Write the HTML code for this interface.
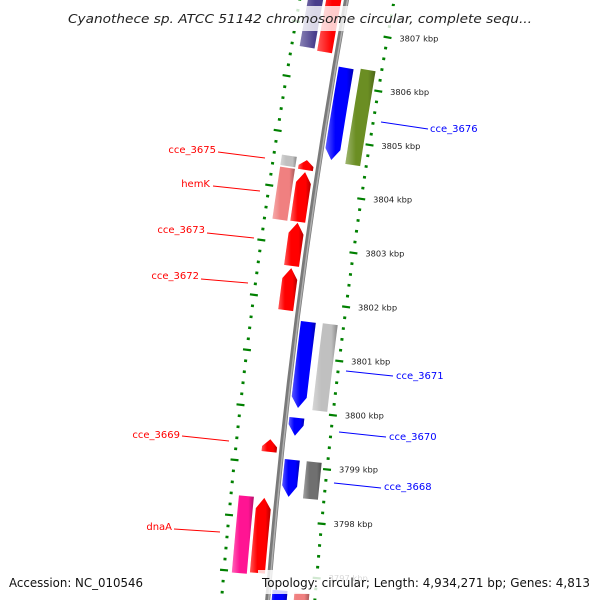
<!DOCTYPE html>
<html><head><meta charset="utf-8"><style>
html,body{margin:0;padding:0;background:#fff;width:600px;height:600px;overflow:hidden;}
svg{display:block;overflow:hidden;}
text{font-family:"DejaVu Sans","Liberation Sans",sans-serif;}
</style></head><body>
<svg id="chart" width="600" height="600" viewBox="0 0 600 600" xmlns="http://www.w3.org/2000/svg">
<defs>
<linearGradient id="shade" x1="0" y1="0" x2="1" y2="0">
<stop offset="0" stop-color="#fff" stop-opacity="0.35"/>
<stop offset="0.35" stop-color="#fff" stop-opacity="0"/>
<stop offset="0.75" stop-color="#000" stop-opacity="0"/>
<stop offset="1" stop-color="#000" stop-opacity="0.3"/>
</linearGradient>
</defs>
<g id="ticks"></g>
<g id="backbone"></g>
<g id="features"></g>
<g id="labels"></g>
<rect x="60" y="6" width="480" height="25" fill="#fff" fill-opacity="0.8"/>
<text x="68" y="23" font-size="12" font-style="italic" fill="#222" textLength="464" lengthAdjust="spacingAndGlyphs">Cyanothece sp. ATCC 51142 chromosome circular, complete sequ...</text>
<rect x="258" y="570" width="342" height="24" fill="#fff" fill-opacity="0.82"/>
<text x="9" y="587" font-size="12" fill="#111" textLength="134" lengthAdjust="spacingAndGlyphs">Accession: NC_010546</text>
<text x="262" y="587" font-size="12" fill="#111" textLength="328" lengthAdjust="spacingAndGlyphs">Topology: circular; Length: 4,934,271 bp; Genes: 4,813</text>
</svg>
<script>
// data
var featStart = [3809.5, 3809.5, 3806.32, 3806.35, 3804.58, 3804.55, 3804.36, 3804.33, 3803.40, 3802.57, 3801.64, 3801.65, 3799.88, 3799.44, 3799.11, 3799.11, 3798.37, 3798.37, 3796.72, 3796.70];
var featEnd   = [3806.57, 3806.54, 3804.62, 3804.59, 3804.39, 3804.37, 3803.41, 3803.42, 3802.61, 3801.80, 3800.06, 3800.05, 3799.55, 3799.21, 3798.43, 3798.43, 3796.97, 3797.00, 3795.5, 3795.5];
var featTrack = [2, 1, 0, 3, 2, 1, 2, 1, 1, 1, 0, 3, 0, 1, 0, 3, 2, 1, 0, 3];
var featArrow = ["none","up","down","none","none","up","none","up","up","up","down","none","down","up","down","none","none","up","down","none"];
var featColor = ["#483d8b","#ff0000","#0000ff","#6b8e23","#c0c0c0","#ff0000","#f08080","#ff0000","#ff0000","#ff0000","#0000ff","#c0c0c0","#0000ff","#ff0000","#0000ff","#707070","#ff1493","#ff0000","#0000ff","#f08080"];
var tickKbp = [3797, 3798, 3799, 3800, 3801, 3802, 3803, 3804, 3805, 3806, 3807, 3808];
var tickLabels = ["3797 kbp","3798 kbp","3799 kbp","3800 kbp","3801 kbp","3802 kbp","3803 kbp","3804 kbp","3805 kbp","3806 kbp","3807 kbp","3808 kbp"];
var geneNames = ["cce_3675","hemK","cce_3673","cce_3672","cce_3669","dnaA","cce_3676","cce_3671","cce_3670","cce_3668"];
var geneSide = ["left","left","left","left","left","left","right","right","right","right"];

// geometry (circular map fragment)
var CX = 6447, CY = 1106;
function ang(k){ return (5.43 + (k - 3798) * 0.508) * Math.PI / 180; }
function pt(k, r){ var a = ang(k); return [CX - r*Math.cos(a), CY - r*Math.sin(a)]; }
var trackR = [[6181,6196],[6205,6220],[6223,6238],[6159,6174]];
var NS = "http://www.w3.org/2000/svg";
function mk(tag, attrs, parent){ var e = document.createElementNS(NS, tag); for (var a in attrs) e.setAttribute(a, attrs[a]); parent.appendChild(e); return e; }

// ruler ticks
var tg = document.getElementById('ticks');
var rulers = [6153, 6246];
for (var ri = 0; ri < rulers.length; ri++) {
  var r = rulers[ri];
  for (var s = 37950; s <= 38100; s += 2) {
    var k = s / 10;
    var major = (s % 10 === 0);
    var half = major ? 4 : 1.5;
    var p1 = pt(k, r - half), p2 = pt(k, r + half);
    var ln = mk('line', {x1:p1[0], y1:p1[1], x2:p2[0], y2:p2[1], stroke:'#008000', 'stroke-width': major ? 2.2 : 2.6}, tg);
    
    
  }
}
for (var i = 0; i < tickKbp.length; i++) {
  var p = pt(tickKbp[i], 6141);
  var t = mk('text', {x:p[0], y:p[1] + 2, 'font-size':8.3, fill:'#222'}, tg);
  t.textContent = tickLabels[i];
  
  
}

// backbone
var bg = document.getElementById('backbone');
var b1 = pt(3810, 6200), b2 = pt(3795, 6200);
var bb = mk('path', {d:'M'+b1[0]+','+b1[1]+' A6200,6200 0 0 0 '+b2[0]+','+b2[1], fill:'none', stroke:'#7a7a7a', 'stroke-width':5}, bg);


var b3 = pt(3810, 6199), b4 = pt(3795, 6199);
var bh = mk('path', {d:'M'+b3[0]+','+b3[1]+' A6199,6199 0 0 0 '+b4[0]+','+b4[1], fill:'none', stroke:'#b0b0b0', 'stroke-width':1.5}, bg);



// features
var fg = document.getElementById('features');
function edge(k1, k2, r){ var out = []; for (var j = 0; j <= 6; j++){ out.push(pt(k1 + (k2-k1)*j/6, r)); } return out; }
for (var i = 0; i < featStart.length; i++) {
  var hi = Math.max(featStart[i], featEnd[i]), lo = Math.min(featStart[i], featEnd[i]);
  var rr = trackR[featTrack[i]], r1 = rr[0], r2 = rr[1], rm = (r1 + r2) / 2;
  var head = Math.min(0.2, (hi - lo) * 0.6);
  var pts = [];
  if (featArrow[i] === 'up') {
    pts = pts.concat(edge(lo, hi - head, r1));
    pts.push(pt(hi, rm));
    pts = pts.concat(edge(hi - head, lo, r2));
  } else if (featArrow[i] === 'down') {
    pts.push(pt(lo, rm));
    pts = pts.concat(edge(lo + head, hi, r1));
    pts = pts.concat(edge(hi, lo + head, r2));
  } else {
    pts = pts.concat(edge(lo, hi, r1));
    pts = pts.concat(edge(hi, lo, r2));
  }
  var str = pts.map(function(q){ return q[0].toFixed(2)+','+q[1].toFixed(2); }).join(' ');
  var poly = mk('polygon', {points:str, fill:featColor[i]}, fg);
  
  
  var sh = mk('polygon', {points:str, fill:'url(#shade)'}, fg);
  
  
}

// gene labels (positions of label text and leader lines)
var lg = document.getElementById('labels');
var labTextX = [216, 210, 205, 199, 180, 172, 430, 396, 389, 384];
var labTextY = [153, 187, 233, 279, 438, 530, 132, 379, 440, 490];
var lineA = [[218,152],[213,186],[207,233],[201,279],[182,436],[174,529],[381,122],[346,371],[339,432],[334,483]];
var lineB = [[265,158],[260,191],[254,238],[248,283],[229,441],[220,532],[428,129],[393,376],[386,437],[381,488]];
for (var i = 0; i < geneNames.length; i++) {
  var col = geneSide[i] === 'left' ? '#ff0000' : '#0000ff';
  var l = mk('line', {x1:lineA[i][0], y1:lineA[i][1], x2:lineB[i][0], y2:lineB[i][1], stroke:col, 'stroke-width':1}, lg);
  
  
  var t = mk('text', {x:labTextX[i], y:labTextY[i], 'font-size':10, fill:col, 'text-anchor': geneSide[i] === 'left' ? 'end' : 'start'}, lg);
  t.textContent = geneNames[i];
  
  
}
</script>
</body></html>
